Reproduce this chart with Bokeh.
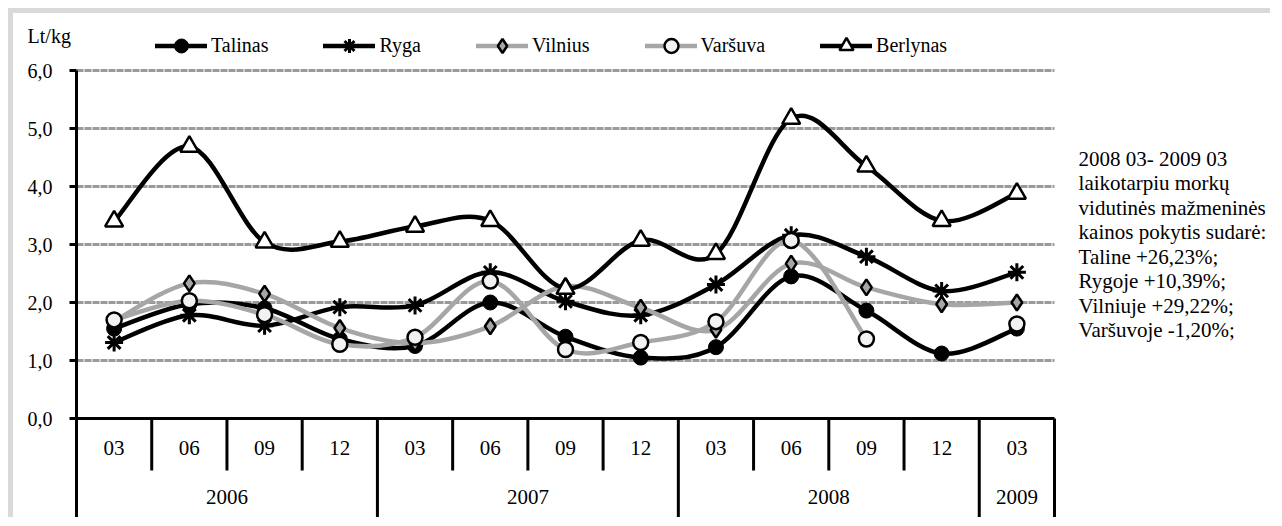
import math
from bokeh.plotting import figure
from bokeh.models import FixedTicker, Legend, LegendItem, Range1d, LinearAxis
from bokeh.embed import file_html
from bokeh.resources import INLINE
from bokeh.core.properties import value

NaN = float("nan")

# ---- data -------------------------------------------------------------
months = ["03", "06", "09", "12", "03", "06", "09", "12", "03", "06", "09", "12", "03"]
years = ["2006"] * 4 + ["2007"] * 4 + ["2008"] * 4 + ["2009"]

talinas = [1.55, 1.97, 1.90, 1.37, 1.25, 2.00, 1.41, 1.05, 1.23, 2.45, 1.86, 1.12, 1.55]
ryga = [1.31, 1.78, 1.60, 1.92, 1.95, 2.52, 2.02, 1.78, 2.31, 3.16, 2.79, 2.20, 2.52]
vilnius = [1.68, 2.33, 2.15, 1.56, 1.30, 1.59, 2.28, 1.91, 1.53, 2.67, 2.26, 1.97, 2.00]
varsuva = [1.70, 2.03, 1.79, 1.28, 1.40, 2.37, 1.19, 1.31, 1.67, 3.07, 1.37, NaN, 1.63]
berlynas = [3.40, 4.69, 3.04, 3.05, 3.31, 3.41, 2.24, 3.07, 2.84, 5.17, 4.35, 3.41, 3.88]

y_ticks = [0, 1, 2, 3, 4, 5, 6]
y_tick_labels = ["0,0", "1,0", "2,0", "3,0", "4,0", "5,0", "6,0"]
y_unit = "Lt/kg"

note_lines = [
    "2008 03- 2009 03",
    "laikotarpiu  morkų",
    "vidutinės  mažmeninės",
    "kainos pokytis  sudarė:",
    "Taline +26,23%;",
    "Rygoje +10,39%;",
    "Vilniuje +29,22%;",
    "Varšuvoje -1,20%;",
]

# ---- styling / geometry -----------------------------------------------
FONT = "Liberation Serif"
BLACK = "#000000"
GREY = "#a6a6a6"

n = len(months)
xs = [i + 0.5 for i in range(n)]

W, H = 1262, 509            # canvas (starts at page 13,13 after margin+border)
CAT_W = 75.23               # px per category
PX_PER_UNIT = 58.0          # px per 1 Lt/kg
AXIS_X = 63                 # canvas px of the value axis
ZERO_Y = 405                # canvas px of the 0 line
x_start = -AXIS_X / CAT_W
x_end = (W - AXIS_X) / CAT_W
y_end = ZERO_Y / PX_PER_UNIT
y_bottom = -(H - ZERO_Y) / PX_PER_UNIT

p = figure(
    width=W, height=H,
    x_range=Range1d(x_start, x_end), y_range=Range1d(y_bottom, y_end),
    x_axis_location=None, y_axis_location=None,
    output_backend="svg", toolbar_location=None,
    min_border_left=0, min_border_right=0, min_border_top=0, min_border_bottom=0,
)
p.margin = (8, 0, 0, 8)
p.styles = {"border-top": "5px solid #d9d9d9", "border-left": "5px solid #d9d9d9"}
p.outline_line_color = None
p.background_fill_color = "white"
p.border_fill_color = "white"
p.grid.visible = False

# value axis, drawn at x = 0 (left edge of the category area)
yax = LinearAxis(fixed_location=0, bounds=(y_bottom, max(y_ticks)))
yax.ticker = FixedTicker(ticks=y_ticks, minor_ticks=[])
yax.major_label_overrides = {t: lab for t, lab in zip(y_ticks, y_tick_labels)}
yax.axis_line_width = 3
yax.axis_line_color = BLACK
yax.major_tick_line_width = 3
yax.major_tick_line_color = BLACK
yax.major_tick_out = 7
yax.major_tick_in = 0
yax.minor_tick_line_color = None
yax.major_label_standoff = 17
yax.major_label_text_font = FONT
yax.major_label_text_font_size = "20px"
yax.major_label_text_color = BLACK
p.add_layout(yax, "left")

# horizontal grid lines (1..6), across the category area only
gvals = [t for t in y_ticks if t > 0]
p.segment(x0=[0] * len(gvals), y0=gvals, x1=[n] * len(gvals), y1=gvals,
          line_color="#9a9a9a", line_width=3, line_dash="7 1")

# category axis line at 0 and separators
p.segment(x0=[0], y0=[0], x1=[n], y1=[0], line_color=BLACK, line_width=3)
sep_x, sep_y = [], []
for i in range(1, n + 1):
    sep_x.append(i)
    if i == n or years[i] != years[i - 1]:
        sep_y.append(y_bottom)
    else:
        sep_y.append(-0.897)
p.segment(x0=sep_x, y0=[0] * len(sep_x), x1=sep_x, y1=sep_y, line_color=BLACK, line_width=3)

# month labels
p.text(x=xs, y=[-0.5] * n, text=months, text_align="center", text_baseline="middle",
       text_font=value(FONT), text_font_size="21px", text_color=BLACK)
# year labels
year_names, year_mid = [], []
start = 0
for i in range(1, n + 1):
    if i == n or years[i] != years[i - 1]:
        year_names.append(years[start]); year_mid.append((start + i) / 2)
        start = i
p.text(x=year_mid, y=[-1.36] * len(year_mid), text=year_names, text_align="center",
       text_baseline="middle", text_font=value(FONT), text_font_size="21px", text_color=BLACK)


def smooth(xv, yv):
    """Bezier segments (Catmull-Rom style, like a spreadsheet's smoothed line)."""
    out = {k: [] for k in ("x0", "y0", "x1", "y1", "cx0", "cy0", "cx1", "cy1")}
    ok = lambda j: 0 <= j < len(yv) and not math.isnan(yv[j])
    for i in range(len(yv) - 1):
        if not (ok(i) and ok(i + 1)):
            continue
        a = i - 1 if ok(i - 1) else i
        d = i + 2 if ok(i + 2) else i + 1
        out["x0"].append(xv[i]); out["y0"].append(yv[i])
        out["x1"].append(xv[i + 1]); out["y1"].append(yv[i + 1])
        out["cx0"].append(xv[i] + (xv[i + 1] - xv[a]) / 6)
        out["cy0"].append(yv[i] + (yv[i + 1] - yv[a]) / 6)
        out["cx1"].append(xv[i + 1] - (xv[d] - xv[i]) / 6)
        out["cy1"].append(yv[i + 1] - (yv[d] - yv[i]) / 6)
    return out


series = [
    ("Talinas", talinas, BLACK, dict(marker="circle", size=15, fill_color=BLACK, line_color=BLACK, line_width=1)),
    ("Ryga", ryga, BLACK, dict(marker="asterisk", size=18, line_color=BLACK, line_width=3)),
    ("Vilnius", vilnius, GREY, dict(marker="diamond", size=16, fill_color=GREY, line_color=BLACK, line_width=2.5)),
    ("Varšuva", varsuva, GREY, dict(marker="circle", size=15, fill_color="#f2f2f2", line_color=BLACK, line_width=2.5)),
    ("Berlynas", berlynas, BLACK, dict(marker="triangle", size=18, fill_color="white", line_color=BLACK, line_width=2.5)),
]

items = []
for name, vals, col, mk in series:
    seg = smooth(xs, vals)
    r_line = p.bezier(**seg, line_color=col, line_width=4.5, line_cap="round")
    r_pts = p.scatter(x=xs, y=vals, **mk)
    items.append(LegendItem(label=name, renderers=[r_line, r_pts]))

legend = Legend(
    items=items, orientation="horizontal", location=(142, 459),
    glyph_width=52, glyph_height=35, label_standoff=4, spacing=55,
    padding=0, margin=0, border_line_color=None, background_fill_alpha=0,
    label_text_font=FONT, label_text_font_size="20px", label_text_color=BLACK,
    label_height=20,
)
p.add_layout(legend)

# unit label above the value axis
p.text(x=[-0.65], y=[(418 - 35) / PX_PER_UNIT], text=[y_unit], text_align="left",
       text_baseline="middle", text_font=value(FONT), text_font_size="20px", text_color=BLACK)

# note text to the right of the chart
note_x = [n + 0.32] * len(note_lines)
note_y = [(418 - (158 + 24.5 * k)) / PX_PER_UNIT for k in range(len(note_lines))]
p.text(x=note_x, y=note_y, text=note_lines, text_align="left", text_baseline="middle",
       text_font=value(FONT), text_font_size="21px", text_color=BLACK)

open("out.html", "w").write(file_html(p, INLINE))
